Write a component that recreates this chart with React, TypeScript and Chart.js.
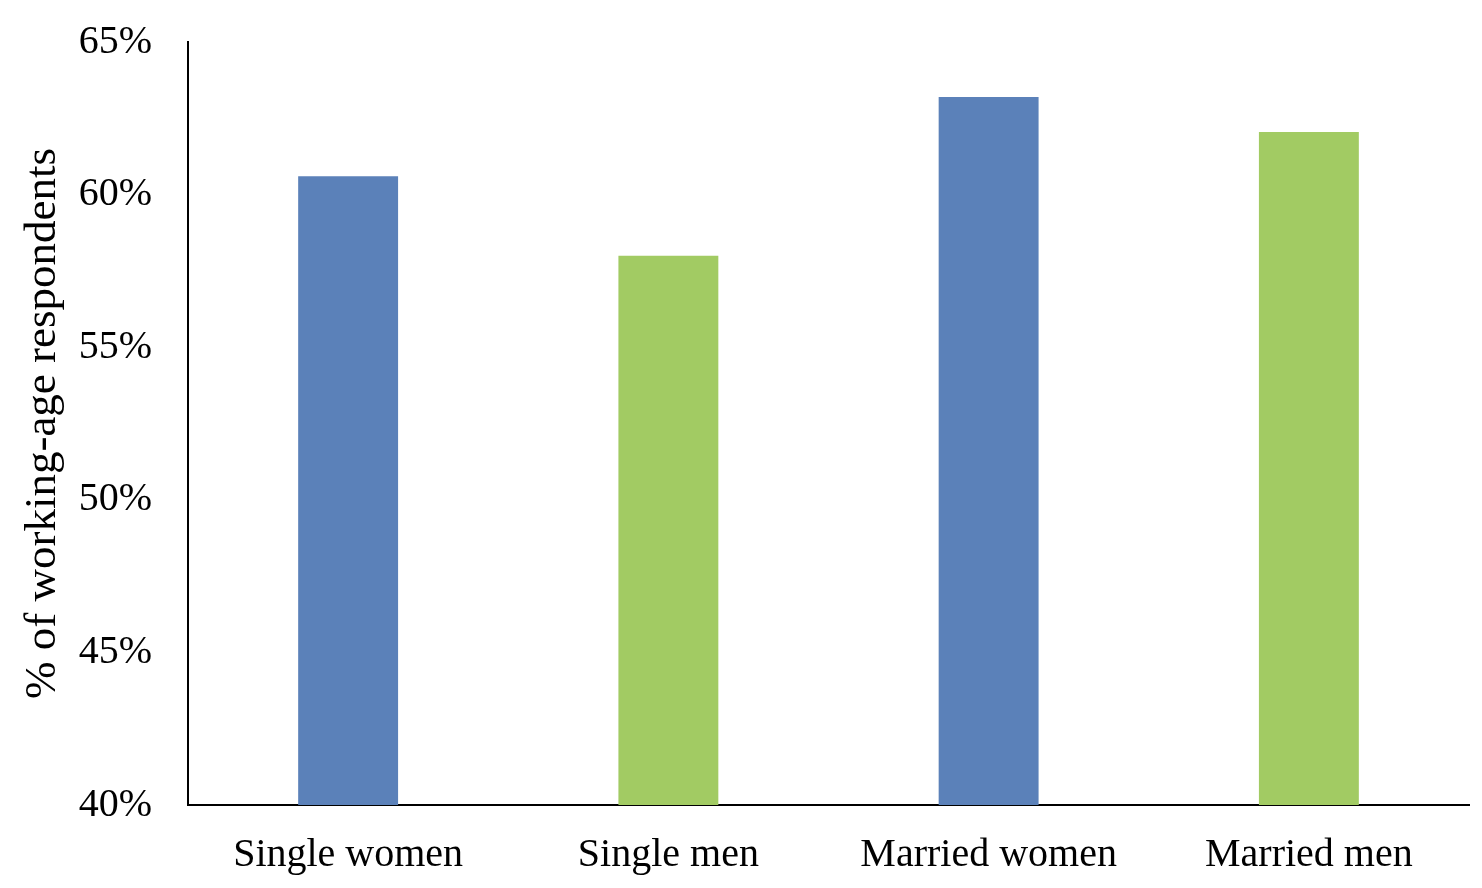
import React, { useEffect, useRef } from "react";
import { Chart, registerables } from "chart.js";

Chart.register(...registerables);

const categories = ["Single women", "Single men", "Married women", "Married men"];
const values = [60.6, 58.0, 63.2, 62.05];
const barColors = ["#5b81b9", "#a2cb63", "#5b81b9", "#a2cb63"];
const yTitle = "% of working-age respondents";

export default function App() {
  const ref = useRef<HTMLCanvasElement>(null);
  useEffect(() => {
    if (!ref.current) return;
    const font = "'Liberation Serif', 'Times New Roman', serif";
    const chart = new Chart(ref.current, {
      type: "bar",
      data: {
        labels: categories,
        datasets: [
          {
            data: values,
            backgroundColor: barColors,
            borderWidth: 0,
            categoryPercentage: 1,
            barPercentage: 0.312,
          },
        ],
      },
      options: {
        animation: false,
        responsive: false,
        maintainAspectRatio: false,
        layout: { padding: { left: 0, top: 42, right: 13, bottom: 0 } },
        plugins: { legend: { display: false }, tooltip: { enabled: false } },
        scales: {
          x: {
            grid: { display: false, drawTicks: false },
            border: { display: true, color: "#000", width: 2 },
            ticks: {
              color: "#000",
              font: { family: font, size: 40 },
              padding: 26,
              maxRotation: 0,
              autoSkip: false,
            },
            afterFit: (s: any) => {
              s.height = 83;
              s.paddingLeft = 0;
              s.paddingRight = 0;
            },
          },
          y: {
            min: 40,
            max: 65,
            grid: { display: false, drawTicks: false },
            border: { display: true, color: "#000", width: 2 },
            ticks: {
              stepSize: 5,
              color: "#000",
              font: { family: font, size: 40 },
              padding: 36,
              callback: (v: any) => v + "%",
            },
            title: {
              display: true,
              text: yTitle,
              color: "#000",
              font: { family: font, size: 45 },
              padding: { top: 16, bottom: 0 },
            },
            afterFit: (s: any) => {
              s.width = 188;
              s.paddingTop = 0;
              s.paddingBottom = 0;
            },
          },
        },
      },
    });
    return () => chart.destroy();
  }, []);
  return (
    <div style={{ position: "fixed", left: 0, top: 0, width: 1482, height: 888, background: "#fff" }}>
      <canvas ref={ref} width={1482} height={888} style={{ width: 1482, height: 888 }} />
    </div>
  );
}
